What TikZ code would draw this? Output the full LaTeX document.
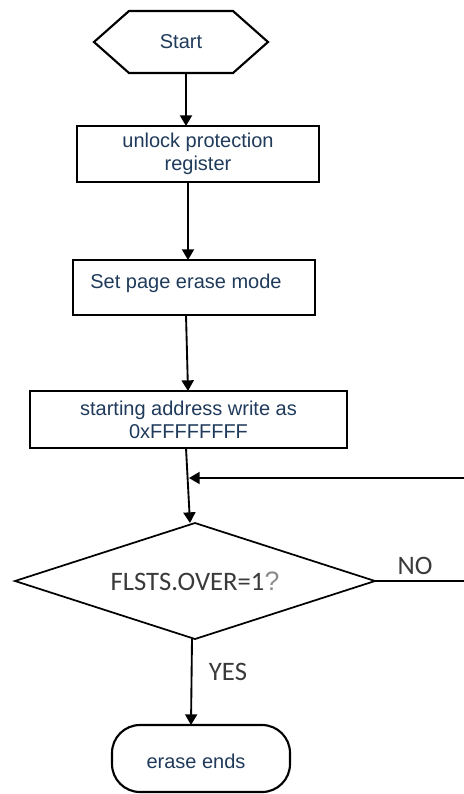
\documentclass[tikz,border=0pt]{standalone}
\usepackage{fontspec}
\setmainfont{Liberation Sans}
\newfontfamily\calib{Carlito}
\usetikzlibrary{shapes.geometric,arrows.meta,calc}
\definecolor{navy}{HTML}{1F3A5A}
\definecolor{dgray}{HTML}{3A3A3A}
\definecolor{qgray}{HTML}{8C8C8C}
\begin{document}
\begin{tikzpicture}[x=0.75pt,y=-0.75pt,
  line/.style={line width=1.4pt,black},
  arr/.style={line, -{Triangle[width=9pt,length=8pt]}},
  boxtxt/.style={font=\fontsize{15}{17.25}\selectfont, text=navy},
  procbox/.style={draw, line width=1.6pt, boxtxt, align=center, inner sep=0pt, outer sep=0pt},
  lbl/.style={font=\calib\fontsize{20}{24}\selectfont, text=dgray}]
\useasboundingbox (0,0) rectangle (464,794);

% Start hexagon
\node[boxtxt, minimum width=130.5pt, minimum height=46.5pt, inner sep=0pt, outer sep=0pt] (start) at (181,42) {Start};
\draw[line width=1.6pt] (start.west) -- ($(start.north west)+(35,0)$) -- ($(start.north east)+(-35,0)$) -- (start.east) -- ($(start.south east)+(-35,0)$) -- ($(start.south west)+(35,0)$) -- cycle;

% process boxes
\node[procbox, minimum width=181.5pt, minimum height=42pt] (b1) at (198,154) {unlock protection\\register};
\node[procbox, minimum width=181.5pt, minimum height=41.25pt,
      label={[boxtxt, xshift=-6pt, yshift=3pt]center:Set page erase mode}] (b2) at (194,287.5) {};
\node[procbox, minimum width=237.75pt, minimum height=42.75pt] (b3) at (188.5,419.5) {starting address write as\\0xFFFFFFFF};

% decision
\node[diamond, draw, line width=1.3pt, minimum width=270pt, minimum height=87pt, shape aspect=3.1, inner sep=0pt, outer sep=0pt, lbl] (dec) at (195,581) {FLSTS.OVER=1{\rmfamily\color{qgray}?}};

% end terminal
\node[draw, line width=1.6pt, rounded corners=21pt, minimum width=133.5pt, minimum height=50.25pt, outer sep=0pt,
      label={[boxtxt, xshift=-3.75pt, yshift=-2pt]center:erase ends}] (end) at (201,758.5) {};

% connectors
\draw[arr] ($(start.south)+(5,0)$) -- ($(b1.north)+(-12,0)$);
\draw[arr] ($(b1.south)+(-10,0)$) -- ($(b2.north)+(-6,0)$);
\draw[arr] ($(b2.south)+(-8,0)$) -- ($(b3.north)+(-0.5,0)$);
\draw[arr] ($(b3.south)+(-2.5,0)$) -- ($(dec.north)+(-5,0)$);
\coordinate (j) at (189,478);
\coordinate (rr) at (470,478);
\draw[line] (dec.east) -- (dec.east -| rr) -- (rr);
\draw[arr] (rr) -- (j);
\draw[arr] ($(dec.south)+(-3,0)$) -- ($(end.north)+(-10,0)$);

% labels
\node[lbl] (no) at (415,566) {NO};
\node[lbl] (yes) at (228,672) {YES};
\end{tikzpicture}
\end{document}
